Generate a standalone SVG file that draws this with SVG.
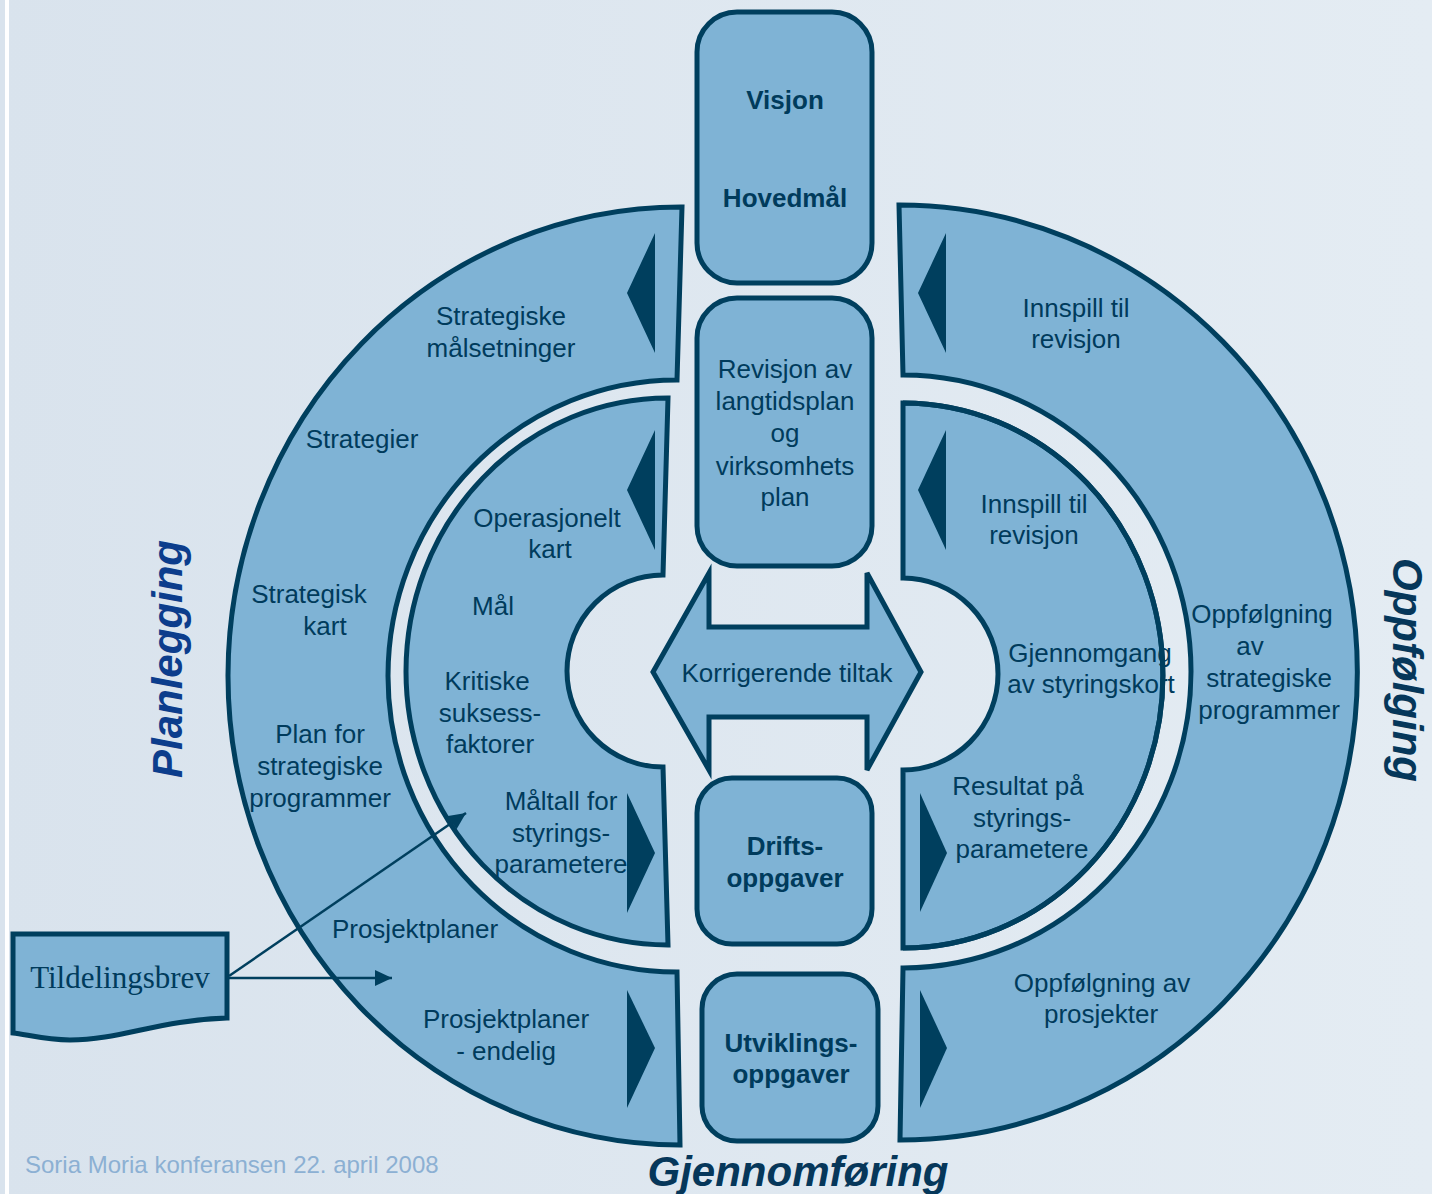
<svg xmlns="http://www.w3.org/2000/svg" width="1432" height="1194" viewBox="0 0 1432 1194">
<defs>
<linearGradient id="bg" x1="0" y1="0" x2="1" y2="0">
<stop offset="0" stop-color="#d9e3ed"/>
<stop offset="1" stop-color="#e4ecf3"/>
</linearGradient>
<marker id="ah" markerUnits="userSpaceOnUse" markerWidth="18" markerHeight="16" refX="17" refY="8" orient="auto">
<path d="M0,0 L17,8 L0,16 Z" fill="#003f5e"/>
</marker>
<style>
.band{fill:#7fb3d5;stroke:#003f5e;stroke-width:5;stroke-linejoin:miter}
.line{fill:none;stroke:#003f5e;stroke-width:5}
.tri{fill:#003f5e}
.t{font-family:"Liberation Sans",Arial,sans-serif;font-size:26px;fill:#003b5c;text-anchor:middle}
.b{font-weight:bold}
.title{font-family:"Liberation Sans",Arial,sans-serif;font-size:42px;font-weight:bold;font-style:italic;text-anchor:middle}
.conn{fill:none;stroke:#003f5e;stroke-width:2.5}
</style>
</defs>
<rect x="0" y="0" width="1432" height="1194" fill="url(#bg)"/>
<rect x="5" y="0" width="4" height="1194" fill="#ffffff"/>

<g id="planlegging-outer">
<path class="band" d="M682,207 L677,380 A289,296 0 0 0 677,972 L680,1145 A453,469 0 0 1 682,207 Z"/>
<text class="t"><tspan x="501" y="325">Strategiske</tspan><tspan x="501" y="357">målsetninger</tspan></text>
<text class="t" x="362" y="448">Strategier</text>
<text class="t"><tspan x="309" y="603">Strategisk</tspan><tspan x="325" y="635">kart</tspan></text>
<text class="t"><tspan x="320" y="743">Plan for</tspan><tspan x="320" y="775">strategiske</tspan><tspan x="320" y="807">programmer</tspan></text>
<text class="t" x="415" y="938">Prosjektplaner</text>
<text class="t"><tspan x="506" y="1028">Prosjektplaner</tspan><tspan x="506" y="1060">- endelig</tspan></text>
<polygon class="tri" points="627,293 655,233 655,353"/>
<polygon class="tri" points="655,1048 627,990 627,1108"/>
</g>

<g id="planlegging-inner">
<path class="band" d="M668,398 L663,575 A96,96 0 0 0 663,767 L668,945 A262,273.5 0 0 1 668,398 Z"/>
<text class="t"><tspan x="547" y="527">Operasjonelt</tspan><tspan x="550" y="558">kart</tspan></text>
<text class="t" x="493" y="615">Mål</text>
<text class="t"><tspan x="487" y="690">Kritiske</tspan><tspan x="490" y="722">suksess-</tspan><tspan x="490" y="753">faktorer</tspan></text>
<text class="t"><tspan x="561" y="810">Måltall for</tspan><tspan x="561" y="842">styrings-</tspan><tspan x="561" y="873">parametere</tspan></text>
<polygon class="tri" points="627,490 655,430 655,550"/>
<polygon class="tri" points="655,853 627,793 627,913"/>
</g>

<g id="oppfolging-outer">
<path id="ro" class="band" d="M899,205 L903,375 A288,296.5 0 0 1 903,968 L900,1140 A458,467.5 0 0 0 899,205 Z"/>
<text class="t"><tspan x="1076" y="317">Innspill til</tspan><tspan x="1076" y="348">revisjon</tspan></text>
<text class="t"><tspan x="1262" y="623">Oppfølgning</tspan><tspan x="1250" y="655">av</tspan><tspan x="1269" y="687">strategiske</tspan><tspan x="1269" y="719">programmer</tspan></text>
<text class="t"><tspan x="1102" y="992">Oppfølgning av</tspan><tspan x="1101" y="1023">prosjekter</tspan></text>
<polygon class="tri" points="918,293 946,233 946,353"/>
<polygon class="tri" points="947,1048 920,990 920,1108"/>
</g>

<g id="oppfolging-inner">
<path id="ri" class="band" d="M903,403 L903,578 A95,96 0 0 1 903,770 L903,948 A260,272.5 0 0 0 903,403 Z"/>
<text class="t"><tspan x="1034" y="513">Innspill til</tspan><tspan x="1034" y="544">revisjon</tspan></text>
<text class="t"><tspan x="1090" y="662">Gjennomgang</tspan><tspan x="1091" y="693">av styringskort</tspan></text>
<text class="t"><tspan x="1018" y="795">Resultat på</tspan><tspan x="1022" y="827">styrings-</tspan><tspan x="1022" y="858">parametere</tspan></text>
<path class="line" d="M903,948 A260,272.5 0 0 0 903,403"/>
<polygon class="tri" points="918,490 946,430 946,550"/>
<polygon class="tri" points="947,853 920,793 920,912"/>
</g>

<g id="visjon">
<rect class="band" x="697" y="12" width="175" height="271" rx="40" ry="40"/>
<text class="t b"><tspan x="785" y="109">Visjon</tspan><tspan x="785" y="207">Hovedmål</tspan></text>
</g>

<g id="revisjon">
<rect class="band" x="697" y="298" width="175" height="268" rx="40" ry="40"/>
<text class="t"><tspan x="785" y="378">Revisjon av</tspan><tspan x="785" y="410">langtidsplan</tspan><tspan x="785" y="442">og</tspan><tspan x="785" y="475">virksomhets</tspan><tspan x="785" y="506">plan</tspan></text>
</g>

<g id="korrigerende">
<polygon class="band" points="653,672 709,573 709,627 867,627 867,573 921,672 867,770 867,717 709,717 709,770"/>
<text class="t" x="787" y="682">Korrigerende tiltak</text>
</g>

<g id="drift">
<rect class="band" x="697" y="778" width="175" height="166" rx="35" ry="35"/>
<text class="t b"><tspan x="785" y="855">Drifts-</tspan><tspan x="785" y="887">oppgaver</tspan></text>
</g>

<g id="utvikling">
<rect class="band" x="702" y="974" width="176" height="167" rx="35" ry="35"/>
<text class="t b"><tspan x="791" y="1052">Utviklings-</tspan><tspan x="791" y="1083">oppgaver</tspan></text>
</g>

<g id="tildelingsbrev">
<path class="band" d="M13,934 L227,934 L227,1018 C160,1020 120,1040 70,1040 C45,1040 25,1034 13,1033 Z"/>
<text x="120" y="988" style="font-family:'Liberation Serif','Times New Roman',serif;font-size:31px;fill:#003b5c;text-anchor:middle">Tildelingsbrev</text>
</g>

<g id="connectors">
<line class="conn" x1="229" y1="976" x2="466" y2="813" marker-end="url(#ah)"/>
<line class="conn" x1="229" y1="978" x2="392" y2="978" marker-end="url(#ah)"/>
</g>

<g id="titles">
<text class="title" transform="translate(182,659) rotate(-90)" fill="#0c3d8c">Planlegging</text>
<text class="title" transform="translate(1393,670) rotate(90)" fill="#06375a">Oppfølging</text>
<text class="title" x="798" y="1186" fill="#06375a">Gjennomføring</text>
</g>

<text x="25" y="1173" style="font-family:'Liberation Sans',Arial,sans-serif;font-size:24px;fill:#8cb0d3">Soria Moria konferansen 22. april 2008</text>
</svg>
